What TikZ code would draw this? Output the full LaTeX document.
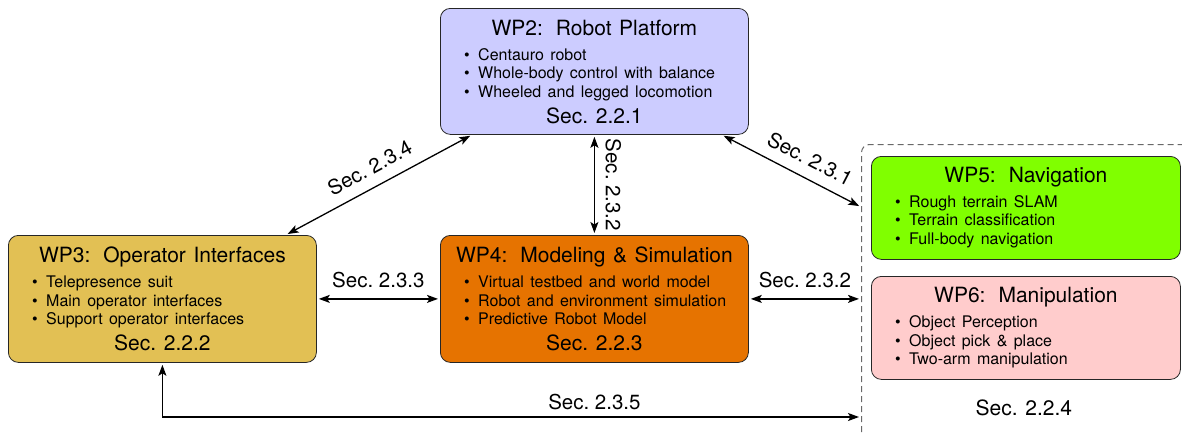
\documentclass[tikz,border=0pt]{standalone}
\usepackage{fontspec}
\setmainfont{TeX Gyre Heros}
\usetikzlibrary{calc,arrows.meta}

\definecolor{wpblue}{RGB}{204,204,255}
\definecolor{wpgold}{RGB}{226,192,84}
\definecolor{wporange}{RGB}{230,115,0}
\definecolor{wpgreen}{RGB}{128,255,0}
\definecolor{wppink}{RGB}{255,204,204}
\definecolor{grpgray}{RGB}{105,105,105}

% fonts with the wider word spacing of the boxes
\newcommand\wptitlefont{\fontsize{21}{25}\selectfont\spaceskip=0.36em\relax\xspaceskip=0.62em\relax}
\newcommand\wpitemfont{\fontsize{16}{19}\selectfont\spaceskip=0.4em\relax}

\tikzset{
  wpbox/.style={draw=black!85, line width=0.8pt, rounded corners=10pt,
    minimum width=308pt, inner sep=0pt, anchor=north west},
  wptitle/.style={font=\wptitlefont, anchor=base, inner sep=0pt},
  wpsec/.style={font=\fontsize{21}{25}\selectfont, anchor=base, inner sep=0pt},
  bul/.style={font=\fontsize{16}{19}\selectfont, anchor=base west, inner sep=0pt},
  itm/.style={font=\wpitemfont, anchor=base west, inner sep=0pt},
  grpbox/.style={draw=grpgray, dash pattern=on 6pt off 4pt, line width=1pt,
    rounded corners=8pt, anchor=north west, inner sep=0pt},
  conn/.style={line width=1.3pt, shorten <=2pt, shorten >=2pt,
    {Stealth[length=11pt,width=8pt,inset=2.5pt]}-{Stealth[length=11pt,width=8pt,inset=2.5pt]}},
  lbl/.style={font=\fontsize{20.5}{24}\selectfont, inner sep=0pt},
}

% bullet list inside a work-package box
\newcommand\wpitems[3]{%
  \foreach \itm [count=\k] in {#3} {
    \node[bul] (#1-b\k) at ($(#1.north west)+(24,#2+18.5*\k)$) {\textbullet};
    \node[itm] (#1-t\k) at ($(#1.north west)+(38,#2+18.5*\k)$) {\itm};
  }}

\begin{document}
\begin{tikzpicture}[x=1pt,y=-1pt]
\clip (0,0) rectangle (1182,434);

% work-package boxes
\node[wpbox, fill=wpblue,   minimum height=126pt] (wp2) at (440,8) {};
\node[wpbox, fill=wpgold,   minimum height=127pt] (wp3) at (8,235) {};
\node[wpbox, fill=wporange, minimum height=127pt] (wp4) at (440,235) {};
\node[grpbox, minimum width=360pt, minimum height=320pt] (grp) at (861,144) {};
\node[wpbox, fill=wpgreen, minimum width=309pt, minimum height=103pt] (wp5) at (871,156) {};
\node[wpbox, fill=wppink,  minimum width=309pt, minimum height=103pt] (wp6) at (871,276) {};

% titles
\node[wptitle] (wp2t) at ($(wp2.north)+(0,27)$) {WP2: Robot Platform};
\node[wptitle] (wp3t) at ($(wp3.north)+(0,27)$) {WP3: Operator Interfaces};
\node[wptitle] (wp4t) at ($(wp4.north)+(0,27)$) {WP4: Modeling \& Simulation};
\node[wptitle] (wp5t) at ($(wp5.north)+(0,26)$) {WP5: Navigation};
\node[wptitle] (wp6t) at ($(wp6.north)+(0,26)$) {WP6: Manipulation};

% item lists
\wpitems{wp2}{33.5}{Centauro robot, Whole-body control with balance, Wheeled and legged locomotion}
\wpitems{wp3}{34}{Telepresence suit, Main operator interfaces, Support operator interfaces}
\wpitems{wp4}{34}{Virtual testbed and world model, Robot and environment simulation, Predictive Robot Model}
\wpitems{wp5}{32.5}{Rough terrain SLAM, Terrain classification, Full-body navigation}
\wpitems{wp6}{33}{Object Perception, Object pick \& place, Two-arm manipulation}

% section references
\node[wpsec] (wp2s) at ($(wp2.south)+(0,-11)$) {Sec. 2.2.1};
\node[wpsec] (wp3s) at ($(wp3.south)+(0,-12)$) {Sec. 2.2.2};
\node[wpsec] (wp4s) at ($(wp4.south)+(0,-12)$) {Sec. 2.2.3};
\node[wpsec] (grps) at ($(wp6.south)+(-2,36)$) {Sec. 2.2.4};

% interface points on the dashed group
\coordinate (g1) at ($(grp.north west)+(0,63)$);
\coordinate (g2) at (grp.west |- wp4.east);
\coordinate (g3) at ($(grp.north west)+(0,273)$);
\coordinate (a2l) at ($(wp2.south west)+(32,0)$);
\coordinate (a2r) at ($(wp2.south east)+(-27,0)$);
\coordinate (a3t) at ($(wp3.north east)+(-31,0)$);

% connectors
\draw[conn] (a2l) -- node[lbl, midway, sloped, above=12pt, anchor=base] (l234) {Sec.\ 2.3.4} (a3t);
\draw[conn] (a2r) -- node[lbl, pos=0.57, sloped, above=12pt, anchor=base] (l231) {Sec.\ 2.3.1} (g1);
\draw[conn] (wp2.south) -- (wp4.north);
\node[lbl, rotate=-90, anchor=south] (l232a) at ($(wp2.south)!0.5!(wp4.north)+(11,0)$) {Sec.\ 2.3.2};
\draw[conn] (wp3.east) -- node[lbl, midway, above=11pt, anchor=base] (l233) {Sec.\ 2.3.3} (wp4.east -| wp4.west);
\draw[conn] (wp4.east) -- node[lbl, midway, above=11pt, anchor=base] (l232b) {Sec.\ 2.3.2} (g2);
\draw[conn] (wp3.south) |- (g3);
\node[lbl, anchor=base] (l235) at ($(wp4.south |- g3)+(0,-8)$) {Sec.\ 2.3.5};
\end{tikzpicture}
\end{document}
